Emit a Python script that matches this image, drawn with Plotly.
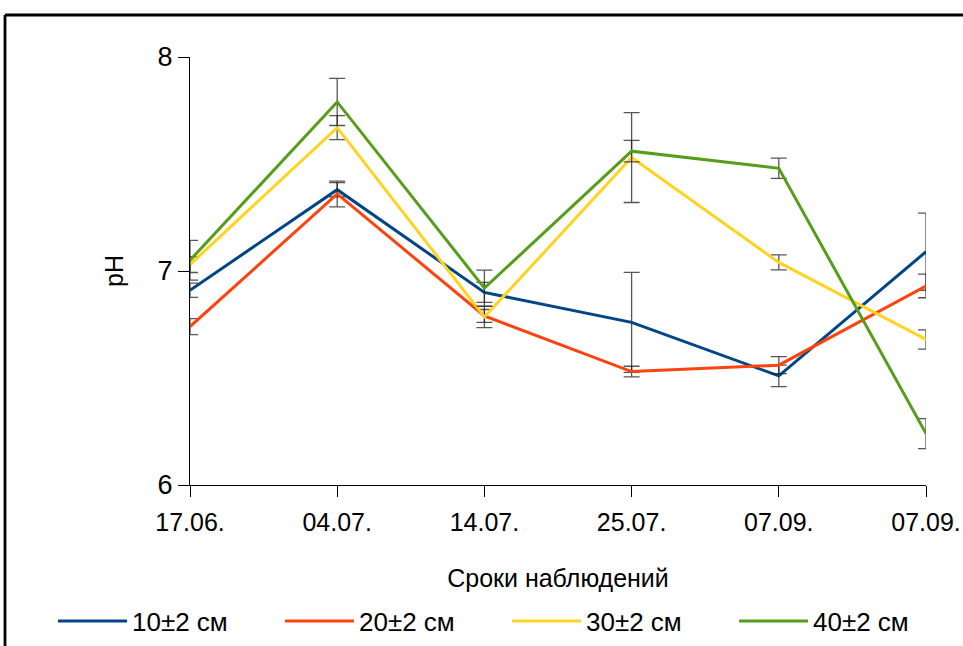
import plotly.graph_objects as go

dates = ["17.06.", "04.07.", "14.07.", "25.07.", "07.09.", "07.09."]
series_names = ["10±2 см", "20±2 см", "30±2 см", "40±2 см"]
ph_10 = [6.91, 7.38, 6.90, 6.76, 6.51, 7.09]
ph_20 = [6.74, 7.36, 6.79, 6.53, 6.56, 6.93]
ph_30 = [7.03, 7.67, 6.785, 7.53, 7.04, 6.68]
ph_40 = [7.05, 7.79, 6.92, 7.56, 7.48, 6.24]
err_10 = [0.033, 0.033, 0.047, 0.234, 0.05, 0.18]
err_20 = [0.037, 0.06, 0.03, 0.025, 0.04, 0.055]
err_30 = [0.037, 0.056, 0.05, 0.21, 0.035, 0.045]
err_40 = [0.093, 0.11, 0.084, 0.05, 0.047, 0.07]
colors = ["#004586", "#ff420e", "#ffd320", "#579d1c"]

W, H = 963, 646
ML, MR, MT, MB = 190, 37, 57, 161
pw, ph = W - ML - MR, H - MT - MB

x = list(range(len(dates)))
fig = go.Figure()
for name, ys, es, c in zip(series_names, [ph_10, ph_20, ph_30, ph_40],
                           [err_10, err_20, err_30, err_40], colors):
    fig.add_trace(go.Scatter(
        x=x, y=ys, mode="lines", name=name,
        line=dict(color=c, width=3),
        error_y=dict(type="data", array=es, visible=True,
                     color="rgba(30,30,30,0.75)", thickness=1.3, width=8),
    ))

def px_x(p):
    return (p - ML) / pw

def px_y(p):
    return (H - MB - p) / ph

fig.add_shape(type="line", xref="paper", yref="paper",
              x0=px_x(5), x1=px_x(970), y0=px_y(15), y1=px_y(15),
              line=dict(color="black", width=2.8))
fig.add_shape(type="line", xref="paper", yref="paper",
              x0=px_x(5), x1=px_x(5), y0=px_y(15), y1=px_y(660),
              line=dict(color="black", width=2.8))

font = "Liberation Sans, Arial, sans-serif"
fig.update_layout(
    width=W, height=H,
    margin=dict(l=ML, r=MR, t=MT, b=MB, autoexpand=False),
    paper_bgcolor="white", plot_bgcolor="white",
    font=dict(family=font, color="black"),
    showlegend=True,
    legend=dict(orientation="h", x=px_x(53), xanchor="left",
                y=px_y(621), yanchor="middle",
                font=dict(size=26, family=font),
                itemwidth=69, entrywidth=143, entrywidthmode="pixels",
                bgcolor="rgba(0,0,0,0)"),
    xaxis=dict(range=[0, 5], tickvals=x, ticktext=dates,
               showgrid=False, zeroline=False,
               showline=True, linecolor="black", linewidth=1,
               ticks="outside", ticklen=11, tickcolor="black",
               ticklabelstandoff=4,
               tickfont=dict(size=25, family=font),
               title=dict(text="Сроки наблюдений", font=dict(size=25, family=font),
                          standoff=34)),
    yaxis=dict(range=[6, 8], tickvals=[6, 7, 8],
               showgrid=False, zeroline=False,
               showline=True, linecolor="black", linewidth=1,
               ticks="outside", ticklen=11, tickcolor="black",
               tickfont=dict(size=27, family=font),
               title=dict(text="pH", font=dict(size=25, family=font),
                          standoff=26)),
)

fig.write_html("out.html", config={"displayModeBar": False},
               post_script="document.body.style.margin='0';document.body.style.overflow='hidden';")
